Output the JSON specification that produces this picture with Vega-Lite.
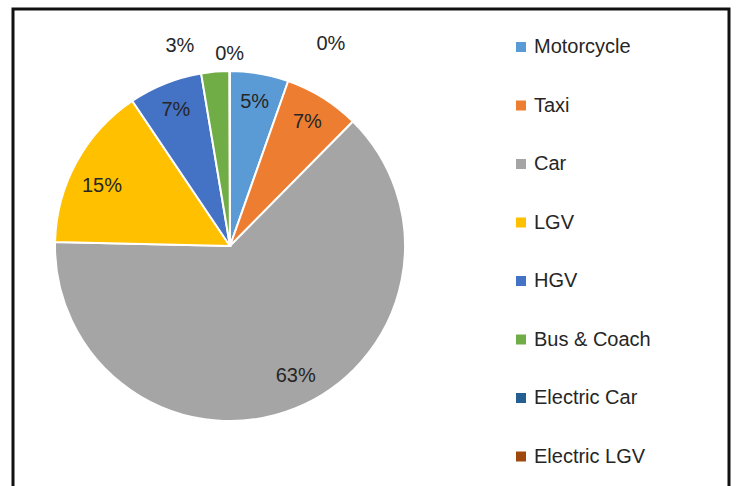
{
  "$schema": "https://vega.github.io/schema/vega-lite/v6.json",
  "autosize": {"type": "none"},
  "padding": {"left": 13, "top": 9, "right": 8, "bottom": 0},
  "width": 716,
  "height": 480,
  "background": "white",
  "config": {
    "view": {"stroke": "#111111", "strokeWidth": 3},
    "font": "Liberation Sans"
  },
  "data": {
    "values": [
      {"idx": 1, "cat": "Motorcycle", "value": 5.4, "label": "5%"},
      {"idx": 2, "cat": "Taxi", "value": 7.0, "label": "7%"},
      {"idx": 3, "cat": "Car", "value": 63.0, "label": "63%"},
      {"idx": 4, "cat": "LGV", "value": 15.2, "label": "15%"},
      {"idx": 5, "cat": "HGV", "value": 6.8, "label": "7%"},
      {"idx": 6, "cat": "Bus & Coach", "value": 2.6, "label": "3%"},
      {"idx": 7, "cat": "Electric Car", "value": 0.02, "label": "0%"},
      {"idx": 8, "cat": "Electric LGV", "value": 0.02, "label": "0%"}
    ]
  },
  "encoding": {
    "theta": {"field": "value", "type": "quantitative", "stack": true},
    "order": {"field": "idx", "type": "quantitative"},
    "x": {"value": 217},
    "y": {"value": 237}
  },
  "layer": [
    {
      "mark": {"type": "arc", "outerRadius": 175, "stroke": "white", "strokeWidth": 2},
      "encoding": {
        "color": {
          "field": "cat",
          "type": "nominal",
          "scale": {
            "domain": ["Motorcycle", "Taxi", "Car", "LGV", "HGV", "Bus & Coach", "Electric Car", "Electric LGV"],
            "range": ["#5B9BD5", "#ED7D31", "#A5A5A5", "#FFC000", "#4472C4", "#70AD47", "#255E91", "#9E480E"]
          },
          "legend": {
            "title": null,
            "orient": "none",
            "legendX": 498,
            "legendY": 28,
            "symbolType": "square",
            "symbolSize": 100,
            "symbolStrokeWidth": 0,
            "labelFontSize": 20,
            "labelColor": "#262626",
            "labelFont": "Liberation Sans",
            "labelOffset": 3,
            "rowPadding": 38.5,
            "labelLimit": 300
          }
        }
      }
    },
    {
      "mark": {"type": "text", "radius": 146, "fontSize": 20, "color": "#262626"},
      "encoding": {
        "text": {"condition": {"test": "datum.idx == 1 || datum.idx == 2 || datum.idx == 5", "field": "label"}, "value": ""}
      }
    },
    {
      "mark": {"type": "text", "radius": 146, "fontSize": 20, "color": "#262626", "dx": 11, "dy": -5},
      "encoding": {
        "text": {"condition": {"test": "datum.idx == 3", "field": "label"}, "value": ""}
      }
    },
    {
      "mark": {"type": "text", "radius": 146, "fontSize": 20, "color": "#262626", "dy": 10},
      "encoding": {
        "text": {"condition": {"test": "datum.idx == 4", "field": "label"}, "value": ""}
      }
    },
    {
      "mark": {"type": "text", "radius": 192, "fontSize": 20, "color": "#262626", "dx": -34, "dy": -9},
      "encoding": {
        "text": {"condition": {"test": "datum.idx == 6", "field": "label"}, "value": ""}
      }
    },
    {
      "mark": {"type": "text", "radius": 192, "fontSize": 20, "color": "#262626"},
      "encoding": {
        "text": {"condition": {"test": "datum.idx == 7", "field": "label"}, "value": ""}
      }
    },
    {
      "mark": {"type": "text", "radius": 192, "fontSize": 20, "color": "#262626", "dx": 101, "dy": -10},
      "encoding": {
        "text": {"condition": {"test": "datum.idx == 8", "field": "label"}, "value": ""}
      }
    }
  ]
}
